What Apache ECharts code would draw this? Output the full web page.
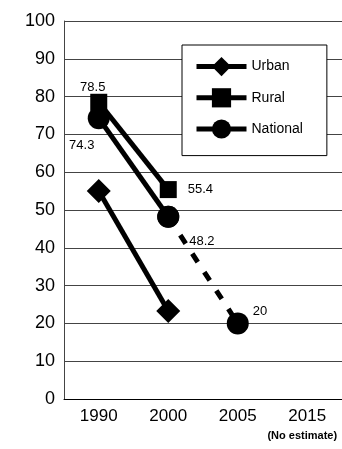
<!DOCTYPE html>
<html><head><meta charset="utf-8">
<script src="https://cdn.jsdelivr.net/npm/echarts@6/dist/echarts.min.js"></script>
<style>html,body{margin:0;padding:0;background:#fff}#c{width:342px;height:449px}</style>
</head><body><div id="c"></div>
<script>
const categories = ['1990', '2000', '2005', '2015'];
const urban = [55, 23.3, null, null];
const rural = [78.5, 55.4, null, null];
const national = [74.3, 48.2, null, null];
const nationalProjected = [null, 48.2, 20, null];

const FONT = '"Liberation Sans", Arial, sans-serif';
const labelStyle = { show: true, color: '#000', fontSize: 13, fontFamily: FONT };

function withLabels(arr, labels) {
  return arr.map((v, i) => {
    if (v === null) return null;
    const l = labels[i];
    return l ? { value: v, label: Object.assign({}, labelStyle, l) } : v;
  });
}

const chart = echarts.init(document.getElementById('c'), null, { renderer: 'canvas' });
const lineW = 5;
chart.setOption({
  animation: false,
  backgroundColor: '#fff',
  grid: { left: 64, right: 0, top: 21, bottom: 50, containLabel: false, outerBoundsMode: 'none' },
  legend: {
    orient: 'vertical',
    left: 182, top: 45,
    padding: [12, 24, 17, 12],
    itemWidth: 50, itemHeight: 24,
    itemGap: 12,
    backgroundColor: '#fff',
    borderColor: '#000', borderWidth: 1,
    lineStyle: { width: 5, color: '#000' },
    textStyle: { color: '#000', fontSize: 14, fontFamily: FONT },
    data: ['Urban', 'Rural', 'National'],
    z: 10
  },
  xAxis: {
    type: 'category',
    data: categories,
    boundaryGap: true,
    axisLine: { lineStyle: { color: '#000', width: 1 } },
    axisTick: { show: false },
    axisLabel: {
      interval: 0,
      color: '#000', fontSize: 17, fontFamily: FONT, margin: 6,
      formatter: v => v === '2015' ? '{a|2015}\n{b|(No estimate)}' : '{a|' + v + '}',
      rich: {
        a: { fontSize: 17, fontFamily: FONT, color: '#000', lineHeight: 22 },
        b: { fontSize: 11, fontWeight: 'bold', fontFamily: FONT, color: '#000', lineHeight: 18, padding: [0, 10, 0, 0] }
      }
    }
  },
  yAxis: {
    type: 'value', min: 0, max: 100, interval: 10,
    axisLine: { show: true, lineStyle: { color: '#444', width: 1 } },
    axisTick: { show: false },
    axisLabel: { color: '#000', fontSize: 18, fontFamily: FONT, margin: 9 },
    splitLine: { lineStyle: { color: '#444', width: 1 } }
  },
  series: [
    {
      name: 'Urban', type: 'line',
      data: urban,
      symbol: 'diamond', symbolSize: 24,
      lineStyle: { color: '#000', width: lineW },
      itemStyle: { color: '#000' },
      z: 3
    },
    {
      name: 'Rural', type: 'line',
      data: withLabels(rural, [
        { position: 'top', distance: 0, offset: [-6, 0] },
        { position: 'right', distance: 11 }
      ]),
      symbol: 'rect', symbolSize: 17,
      lineStyle: { color: '#000', width: lineW },
      itemStyle: { color: '#000' },
      z: 3
    },
    {
      name: 'National', type: 'line',
      data: withLabels(national, [
        { position: 'bottom', distance: 10, offset: [-17, 0] },
        { position: 'right', distance: 6, offset: [4, 25] }
      ]),
      symbol: 'circle', symbolSize: 22,
      lineStyle: { color: '#000', width: lineW },
      itemStyle: { color: '#000' },
      z: 4
    },
    {
      name: 'National (projected)', type: 'line',
      data: withLabels(nationalProjected, [
        null, null,
        { position: 'right', distance: 4, offset: [0, -12] }
      ]),
      symbol: 'circle', symbolSize: 22,
      lineStyle: { color: '#000', width: lineW, type: [10, 12] },
      itemStyle: { color: '#000' },
      z: 2
    }
  ]
});
</script>
</body></html>
